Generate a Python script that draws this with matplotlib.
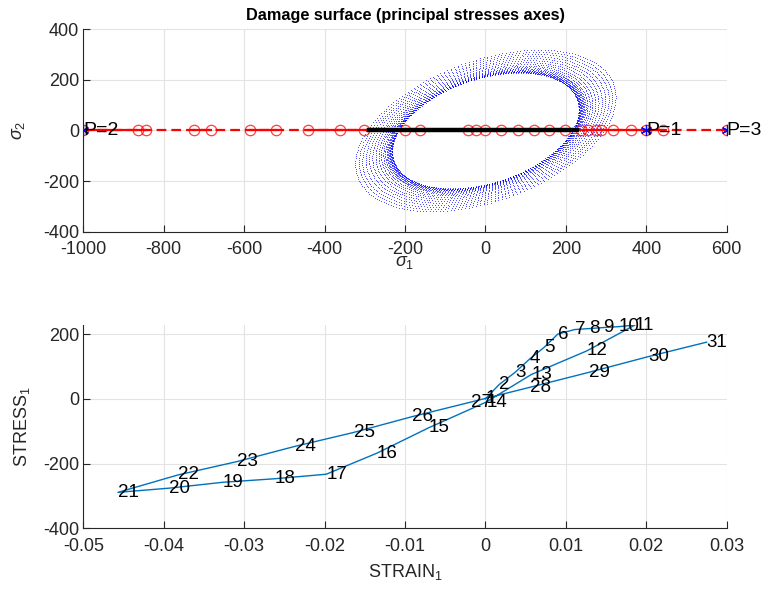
import numpy as np
import matplotlib
matplotlib.use("Agg")
import matplotlib.pyplot as plt
from matplotlib.ticker import FixedLocator, FuncFormatter

plt.rcParams['font.family'] = ['Liberation Sans', 'DejaVu Sans']
plt.rcParams['mathtext.fontset'] = 'custom'
plt.rcParams['mathtext.rm'] = 'Liberation Sans'
plt.rcParams['mathtext.it'] = 'Liberation Sans:italic'
plt.rcParams['lines.scale_dashes'] = False
plt.rcParams['axes.unicode_minus'] = False

# ---- data
# stress / strain history, one point per step (1..31)
strain = [0.0, 0.0017, 0.0037, 0.0055, 0.0073, 0.0090, 0.0111, 0.0129, 0.0146, 0.0166,
          0.0186, 0.0126, 0.0057, 0.0001, -0.0071, -0.0135, -0.0198, -0.0262, -0.0327,
          -0.0393, -0.0457, -0.0382, -0.0309, -0.0237, -0.0164, -0.0091, -0.0018,
          0.0056, 0.0129, 0.0202, 0.0275]
stress = [0, 44, 82, 123, 159, 200, 214, 217, 220, 223,
          228, 148, 75, -10, -90, -168, -233, -247, -258,
          -276, -289, -235, -194, -147, -104, -55, -10,
          36, 82, 130, 175]
step_labels = [str(i + 1) for i in range(len(strain))]

# trial stresses (red circles), sigma_1 axis
trial_s1 = [-1000, -865, -843, -724, -682, -585, -522, -442, -361, -303, -199, -162,
            -44, -23, -2, 39, 80, 120, 159, 199, 238, 254, 275, 288, 318, 362, 400, 441, 600]
# solid pieces of the trial path
trial_seg_start = [-1000, -724, -585, -442]
trial_seg_end = [-843, -682, -522, 441]

# load points
p_s1 = [400, -1000, 600]
p_names = ['P=1', 'P=2', 'P=3']

# damage surfaces: rotated ellipses (semi axes, angle in deg)
ell_a = [269, 270, 271, 273, 275, 277, 279, 283, 286, 290, 296, 303, 311, 320, 330,
         340, 350, 361, 371, 382]
ell_b = [184, 185, 185, 186, 187, 188, 190, 191, 193, 196, 199, 203, 207, 212, 217,
         223, 229, 234, 240, 246]
ell_ang = 44

s1_ticks = [-1000, -800, -600, -400, -200, 0, 200, 400, 600]
s2_ticks = [-400, -200, 0, 200, 400]
eps_ticks = [-0.05, -0.04, -0.03, -0.02, -0.01, 0, 0.01, 0.02, 0.03]
sig_ticks = [-400, -200, 0, 200]

txt = '#262626'
grid_c = '#e3e3e3'
line_blue = '#0072BD'

fig = plt.figure(figsize=(7.66, 5.89), dpi=100)
ax1 = fig.add_axes([0.1088, 0.6066, 0.8399, 0.3437])
ax2 = fig.add_axes([0.1088, 0.1031, 0.8399, 0.3451])


def style(ax):
    for s in ['top', 'right']:
        ax.spines[s].set_visible(False)
    for s in ['left', 'bottom']:
        ax.spines[s].set_color(txt)
        ax.spines[s].set_linewidth(0.8)
    ax.tick_params(direction='in', length=5, width=0.8, colors=txt, labelsize=13, pad=3)
    ax.tick_params(axis='x', pad=7)
    ax.grid(True, color=grid_c, linewidth=0.8)
    ax.set_axisbelow(True)


# ---- top: damage surface
th = np.linspace(0, 2 * np.pi, 220, endpoint=False)
r = np.deg2rad(ell_ang)
for a, b in zip(ell_a, ell_b):
    x = a * np.cos(th) * np.cos(r) - b * np.sin(th) * np.sin(r)
    y = a * np.cos(th) * np.sin(r) + b * np.sin(th) * np.cos(r)
    ax1.plot(x, y, linestyle='none', marker='.', markersize=1.5, color='blue', mew=0,
             alpha=0.8)

ax1.plot([min(trial_s1), max(trial_s1)], [0, 0], color='red', lw=1.6, dashes=[7, 3.6])
for x0, x1 in zip(trial_seg_start, trial_seg_end):
    ax1.plot([x0, x1], [0, 0], color='red', lw=1.6)
ax1.plot(trial_s1, np.zeros(len(trial_s1)), linestyle='none', marker='o', markersize=7.5,
         mfc='none', mec='red', mew=0.9, alpha=0.75)
ax1.plot([min(stress), max(stress)], [0, 0], color='black', lw=3.2)
ax1.plot(p_s1, np.zeros(len(p_s1)), linestyle='none', marker=(6, 2, 0), markersize=8,
         color='blue', mew=0.9)
for xv, name in zip(p_s1, p_names):
    ax1.text(xv, 0, name, ha='left', va='center', fontsize=14, color='black')

ax1.set_xlim(-1000, 600)
ax1.set_ylim(-400, 400)
ax1.xaxis.set_major_locator(FixedLocator(s1_ticks))
ax1.yaxis.set_major_locator(FixedLocator(s2_ticks))
style(ax1)
ax1.set_title('Damage surface (principal stresses axes)', fontsize=11.7, fontweight='bold',
              color='black', pad=7)
ax1.set_xlabel(r'$\sigma_1$', fontsize=13, color=txt)
ax1.set_ylabel(r'$\sigma_2$', fontsize=13, color=txt)
ax1.xaxis.set_label_coords(0.5, -0.11)
ax1.yaxis.set_label_coords(-0.087, 0.5)

# ---- bottom: stress-strain
ax2.plot(strain, stress, color=line_blue, lw=1.0)
for xv, yv, lab in zip(strain, stress, step_labels):
    ax2.text(xv, yv, lab, ha='left', va='center', fontsize=13.5, color='black')
ax2.set_xlim(-0.05, 0.03)
ax2.set_ylim(-400, max(stress))
ax2.xaxis.set_major_locator(FixedLocator(eps_ticks))
ax2.yaxis.set_major_locator(FixedLocator(sig_ticks))
ax2.xaxis.set_major_formatter(FuncFormatter(lambda v, p: '%g' % round(v, 4)))
style(ax2)
ax2.set_xlabel('STRAIN$_1$', fontsize=13, color=txt)
ax2.set_ylabel('STRESS$_1$', fontsize=13, color=txt)
ax2.xaxis.set_label_coords(0.5, -0.165)
ax2.yaxis.set_label_coords(-0.08, 0.5)

fig.savefig('out.png', dpi=100)
